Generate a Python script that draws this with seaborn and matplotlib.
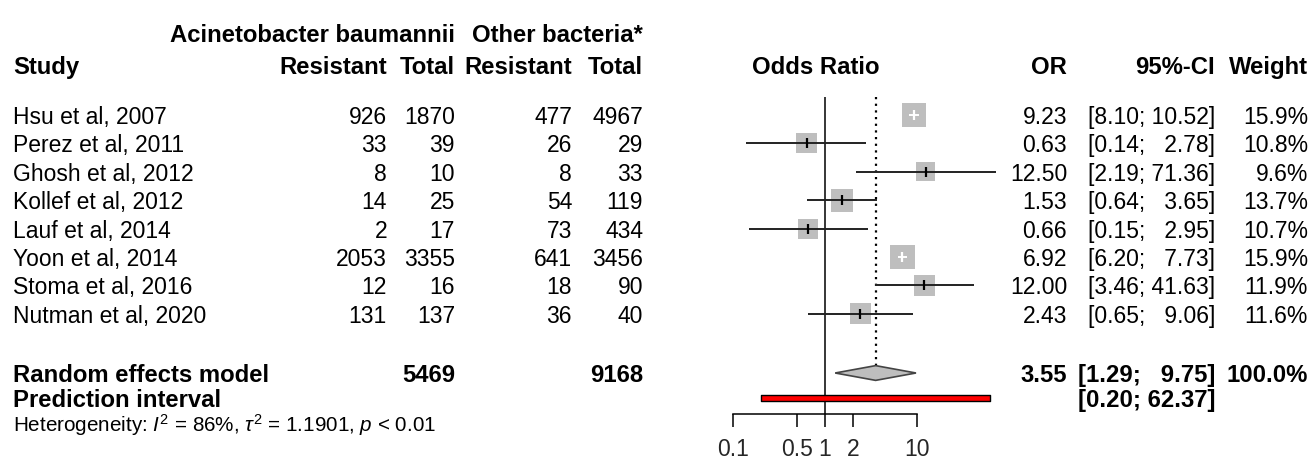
import numpy as np
import pandas as pd
import matplotlib.pyplot as plt
import seaborn as sns

# --------------------------
# Data
# --------------------------

studies = ["Hsu et al, 2007", "Perez et al, 2011", "Ghosh et al, 2012", "Kollef et al, 2012",
           "Lauf et al, 2014", "Yoon et al, 2014", "Stoma et al, 2016", "Nutman et al, 2020"]
ab_resistant = [926, 33, 8, 14, 2, 2053, 12, 131]
ab_total = [1870, 39, 10, 25, 17, 3355, 16, 137]
ot_resistant = [477, 26, 8, 54, 73, 641, 18, 36]
ot_total = [4967, 29, 33, 119, 434, 3456, 90, 40]
odds_ratio = [9.23, 0.63, 12.50, 1.53, 0.66, 6.92, 12.00, 2.43]
ci_low = [8.10, 0.14, 2.19, 0.64, 0.15, 6.20, 3.46, 0.65]
ci_high = [10.52, 2.78, 71.36, 3.65, 2.95, 7.73, 41.63, 9.06]
weight = [15.9, 10.8, 9.6, 13.7, 10.7, 15.9, 11.9, 11.6]

re_or, re_low, re_high = 3.55, 1.29, 9.75
pi_low, pi_high = 0.20, 62.37
total_ab, total_ot = 5469, 9168

x_ticks = [0.1, 0.5, 1, 2, 10]
x_tick_labels = ["0.1", "0.5", "1", "2", "10"]

df = pd.DataFrame({"study": studies, "or": odds_ratio, "lo": ci_low,
                   "hi": ci_high, "weight": weight})
df["row"] = np.arange(len(df))

# --------------------------
# Layout (pixels)
# --------------------------

W, H = 1313, 468
ROW0, ROWH = 115, 28.4          # pixel y of first study row, row height
PX_DEC = 92                     # pixels per decade on the OR axis
X_01 = 733                      # pixel x of OR = 0.1
AX_L, AX_R, AX_B = 700, 1000, 414


def row_of(py):
    return (py - ROW0) / ROWH


def py_of(r):
    return ROW0 + r * ROWH


re_row = row_of(373)
pi_row = row_of(398)

sns.set_theme(style="white")
plt.rcParams["font.family"] = ["Liberation Sans", "DejaVu Sans"]
plt.rcParams["mathtext.fontset"] = "custom"
plt.rcParams["mathtext.rm"] = "Liberation Sans"
plt.rcParams["mathtext.it"] = "Liberation Sans:italic"

FS = 16.5
FS_B = 17.2
fig = plt.figure(figsize=(W / 100, H / 100), dpi=100)

# text layer in pixel coordinates
tax = fig.add_axes([0, 0, 1, 1])
tax.set_xlim(0, W)
tax.set_ylim(H, 0)
tax.axis("off")

# forest axes
fax = fig.add_axes([AX_L / W, 1 - AX_B / H, (AX_R - AX_L) / W, AX_B / H])
fax.patch.set_alpha(0)

line_top = row_of(97)
diamond_h = 0.26

# squares, area proportional to weight
k = 19.5
sns.scatterplot(data=df, x="or", y="row", size="weight",
                sizes=(k * min(weight), k * max(weight)),
                size_norm=(min(weight), max(weight)),
                marker="s", color="#BEBEBE", edgecolor="#BEBEBE", linewidth=0,
                legend=False, ax=fax, zorder=3)

# reference lines
fax.vlines(1, line_top, row_of(AX_B), color="black", lw=1.1, zorder=2)
fax.vlines(re_or, line_top, re_row - diamond_h, color="black", lw=1.6,
           linestyles=(0, (1, 2)), zorder=2)

# CI lines: white when the CI fits inside the square
for _, r in df.iterrows():
    half_px = 6.1 * np.sqrt(r["weight"]) / 2
    inside = (np.log10(r["hi"] / r["or"]) * PX_DEC < half_px and
              np.log10(r["or"] / r["lo"]) * PX_DEC < half_px)
    col = "white" if inside else "#222222"
    fax.hlines(r["row"], r["lo"], r["hi"], color=col, lw=1.4, zorder=4)
    fax.plot([r["or"]], [r["row"]], marker="|", markersize=6.5, mew=1.6,
             color=col if inside else "black", zorder=5)

# random effects diamond
fax.fill([re_low, re_or, re_high, re_or],
         [re_row, re_row - diamond_h, re_row, re_row + diamond_h],
         facecolor="#BEBEBE", edgecolor="#444444", lw=1.2, zorder=3)

# prediction interval
fax.fill_between([pi_low, pi_high], pi_row - 0.09, pi_row + 0.09,
                 facecolor="#FF0000", edgecolor="black", lw=1.0, zorder=3)

# axis styling (after seaborn, which sets its own labels)
fax.set_xscale("log")
fax.set_xlim(10 ** (-1 - (X_01 - AX_L) / PX_DEC), 10 ** (-1 + (AX_R - X_01) / PX_DEC))
fax.set_ylim(row_of(AX_B), row_of(0))
for s in ["top", "right", "left"]:
    fax.spines[s].set_visible(False)
fax.spines["bottom"].set_bounds(x_ticks[0], x_ticks[-1])
fax.spines["bottom"].set_color("black")
fax.spines["bottom"].set_linewidth(1.1)
fax.set_xticks(x_ticks)
fax.set_xticklabels(x_tick_labels, fontsize=FS)
fax.minorticks_off()
fax.tick_params(axis="x", direction="out", length=9.5, width=1.1, color="black",
                pad=8, bottom=True)
fax.set_yticks([])
fax.set_xlabel("")
fax.set_ylabel("")

# --------------------------
# Text columns
# --------------------------

X_STUDY = 13
X_C1, X_C2, X_C3, X_C4 = 387, 455, 572, 643
X_OR, X_CI, X_W = 1067, 1215, 1308


def txt(x, y, s, ha="right", bold=False, size=None):
    if size is None:
        size = FS_B if bold else FS
    tax.text(x, y, s, ha=ha, va="center_baseline", fontsize=size,
             fontweight="bold" if bold else "normal", color="black")


def fmt_ci(lo, hi):
    pad = "  " if hi < 10 else ""
    return f"[{lo:.2f}; {pad}{hi:.2f}]"


# headers
txt(X_C2, 33, "Acinetobacter baumannii", bold=True)
txt(X_C4, 33, "Other bacteria*", bold=True)
txt(X_STUDY, 65, "Study", ha="left", bold=True)
txt(X_C1, 65, "Resistant", bold=True)
txt(X_C2, 65, "Total", bold=True)
txt(X_C3, 65, "Resistant", bold=True)
txt(X_C4, 65, "Total", bold=True)
txt(816, 65, "Odds Ratio", ha="center", bold=True)
txt(X_OR, 65, "OR", bold=True)
txt(X_CI, 65, "95%-CI", bold=True)
txt(X_W, 65, "Weight", bold=True)

for i in range(len(studies)):
    y = py_of(i)
    txt(X_STUDY, y, studies[i], ha="left")
    txt(X_C1, y, str(ab_resistant[i]))
    txt(X_C2, y, str(ab_total[i]))
    txt(X_C3, y, str(ot_resistant[i]))
    txt(X_C4, y, str(ot_total[i]))
    txt(X_OR, y, f"{odds_ratio[i]:.2f}")
    txt(X_CI, y, fmt_ci(ci_low[i], ci_high[i]))
    txt(X_W, y, f"{weight[i]:.1f}%")

y_re = py_of(re_row)
txt(X_STUDY, y_re, "Random effects model", ha="left", bold=True)
txt(X_C2, y_re, str(total_ab), bold=True)
txt(X_C4, y_re, str(total_ot), bold=True)
txt(X_OR, y_re, f"{re_or:.2f}", bold=True)
txt(X_CI, y_re, fmt_ci(re_low, re_high), bold=True)
txt(X_W, y_re, "100.0%", bold=True)

y_pi = py_of(pi_row)
txt(X_STUDY, y_pi, "Prediction interval", ha="left", bold=True)
txt(X_CI, y_pi, fmt_ci(pi_low, pi_high), bold=True)

txt(X_STUDY, 422, r"Heterogeneity: $I^2$ = 86%, $\tau^2$ = 1.1901, $p$ < 0.01",
    ha="left", size=14.9)

fig.savefig("out.png", dpi=100)
